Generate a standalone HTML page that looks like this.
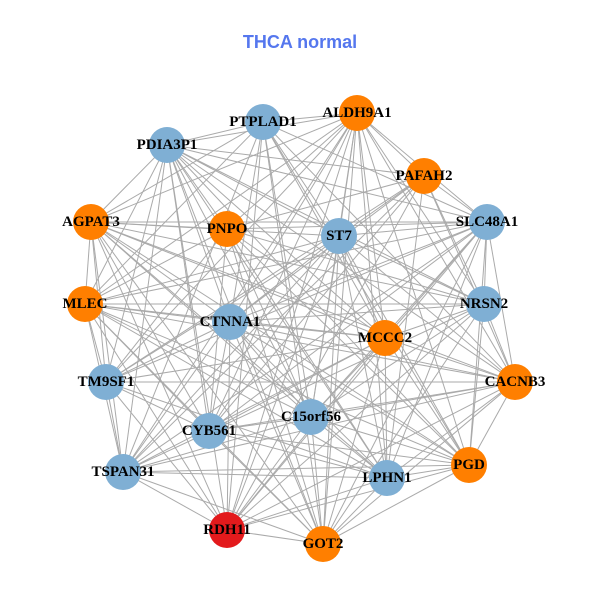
<!DOCTYPE html>
<html><head><meta charset="utf-8"><style>
html,body{margin:0;padding:0;background:#fff;}
svg{display:block;}
text.l{font-family:"Liberation Serif",serif;font-weight:bold;font-size:15px;fill:#000;text-anchor:middle;dominant-baseline:central;}
</style></head><body>
<svg id="s" width="600" height="600" xmlns="http://www.w3.org/2000/svg">
<text x="300" y="42" text-anchor="middle" dominant-baseline="central" font-family="Liberation Sans, sans-serif" font-weight="bold" font-size="18" fill="#5577ee">THCA normal</text>
<g id="e" stroke="#aaaaaa" stroke-width="1"></g>
<g id="n"></g>
</svg>
<script>
var N=[["PTPLAD1",263,122,"b"],["ALDH9A1",357,113,"o"],["PDIA3P1",167,145,"b"],["PAFAH2",424,176,"o"],["SLC48A1",487,222,"b"],["AGPAT3",91,222,"o"],["PNPO",227,229,"o"],["ST7",339,236,"b"],["MLEC",85,304,"o"],["NRSN2",484,304,"b"],["CTNNA1",230,322,"b"],["MCCC2",385,338,"o"],["TM9SF1",106,382,"b"],["CACNB3",515,382,"o"],["C15orf56",311,417,"b"],["CYB561",209,431,"b"],["TSPAN31",123,472,"b"],["PGD",469,465,"o"],["LPHN1",387,478,"b"],["RDH11",227,530,"r"],["GOT2",323,544,"o"]];
var C={b:"#7fafd4",o:"#ff7f00",r:"#e31a1c"};
var ns="http://www.w3.org/2000/svg",e=document.getElementById("e"),g=document.getElementById("n");
for(var i=0;i<N.length;i++)for(var j=i+1;j<N.length;j++){
 if((i*7+j*3)%9==0)continue;
 var l=document.createElementNS(ns,"line");
 l.setAttribute("x1",N[i][1]);l.setAttribute("y1",N[i][2]);l.setAttribute("x2",N[j][1]);l.setAttribute("y2",N[j][2]);e.appendChild(l);}
N.forEach(function(d){
 var c=document.createElementNS(ns,"circle");c.setAttribute("cx",d[1]);c.setAttribute("cy",d[2]);c.setAttribute("r",18);c.setAttribute("fill",C[d[3]]);g.appendChild(c);
 var t=document.createElementNS(ns,"text");t.setAttribute("class","l");t.setAttribute("x",d[1]);t.setAttribute("y",d[2]);t.textContent=d[0];g.appendChild(t);});
</script>
</body></html>
